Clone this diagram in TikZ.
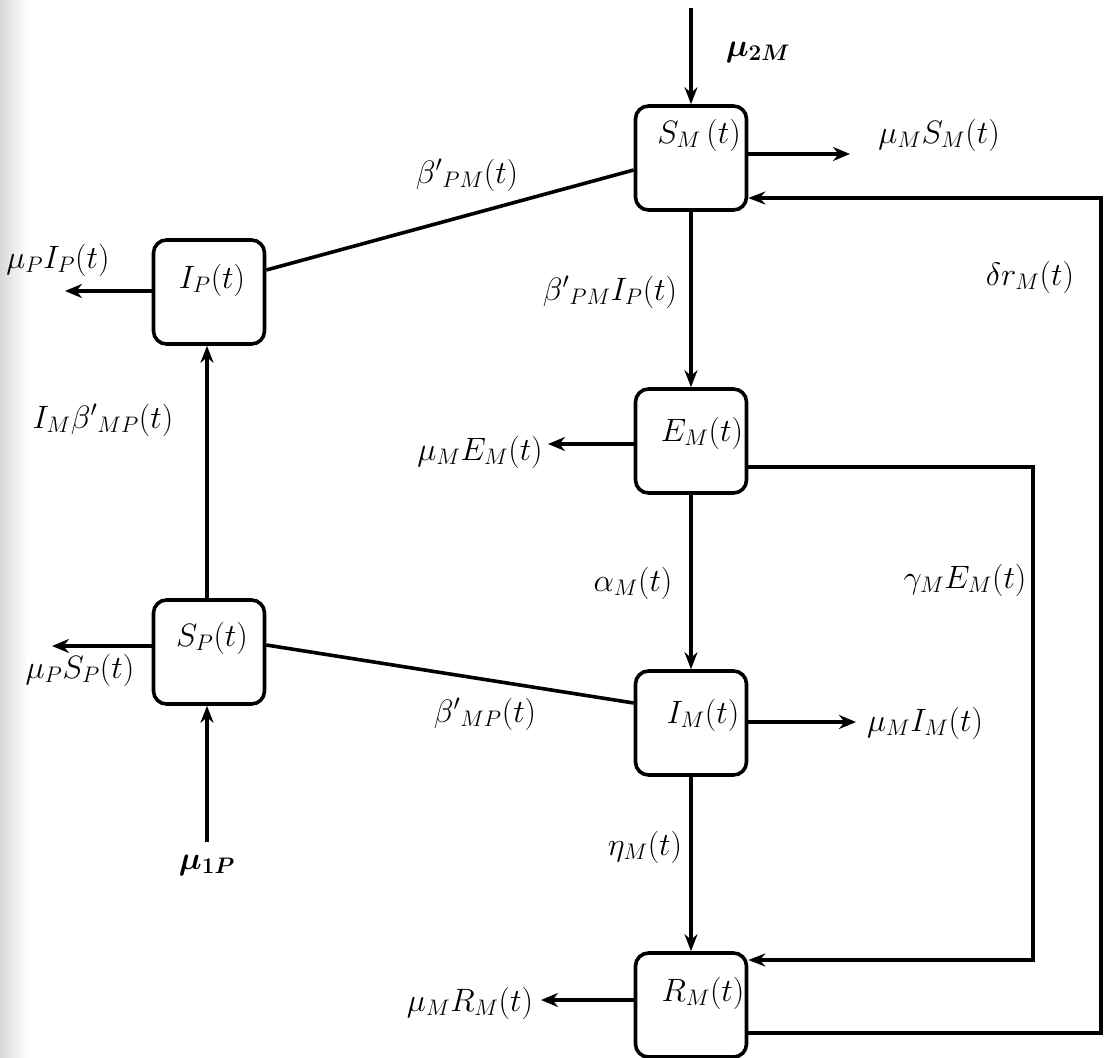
\documentclass[tikz,border=0pt]{standalone}
\usepackage{amsmath}
\DeclareMathSizes{24.88}{24.88}{17.28}{14.4}
\usetikzlibrary{arrows.meta,calc}
\newcommand\mlab[1]{\scalebox{1.3}{\Huge$#1$}}
\begin{document}
\begin{tikzpicture}[x=1pt,y=-1pt,
  box/.style={draw, line width=3.6pt, rounded corners=13pt, minimum width=111pt, minimum height=104pt, inner sep=0pt},
  lbl/.style={inner sep=0pt},
  arr/.style={line width=3.4pt, -{Stealth[length=17pt,width=13pt]}},
  flow/.style={line width=4.4pt, -{Stealth[length=17pt,width=14pt]}},
  link/.style={line width=3.6pt}]
\fill[white] (0,0) rectangle (1105,1057);
\shade[left color=gray!30, right color=white] (0,0) rectangle (28,1057);
\useasboundingbox (0,0) rectangle (1105,1057);

% boxes
\node[box] (SM) at (691,158) {};
\node[box] (IP) at (209,292) {};
\node[box] (EM) at (691,441) {};
\node[box] (IM) at (691,723) {};
\node[box] (SP) at (209,652) {};
\node[box] (RM) at (691,1005) {};

% box texts
\node[lbl] (tSM) at (699,135) {\mlab{S_M\,(t)}};
\node[lbl] (tIP) at (212,280) {\mlab{I_P(t)}};
\node[lbl] (tEM) at (702,433) {\mlab{E_M(t)}};
\node[lbl] (tIM) at (703,715) {\mlab{I_M(t)}};
\node[lbl] (tSP) at (212,638) {\mlab{S_P(t)}};
\node[lbl] (tRM) at (703,993) {\mlab{R_M(t)}};

% inflows
\coordinate (inSM) at (691,8);
\draw[arr] (inSM) -- (SM.north);
\coordinate (inSP) at (207,842);
\draw[arr] (inSP) -- (inSP |- SP.south);

% vertical transitions
\draw[arr] (SM.south) -- (EM.north);
\draw[arr] (EM.south) -- (IM.north);
\draw[arr] (IM.south) -- (RM.north);
\draw[arr] ([xshift=-2pt]SP.north) -- ([xshift=-2pt]IP.south);

% outflows
\coordinate (oSM) at (850,154);
\draw[flow] (SM.east |- oSM) -- (oSM);
\coordinate (oEM) at (548,444);
\draw[flow] (EM.west |- oEM) -- (oEM);
\coordinate (oIM) at (856,722);
\draw[flow] (IM.east |- oIM) -- (oIM);
\coordinate (oRM) at (541,1000);
\draw[flow] (RM.west |- oRM) -- (oRM);
\coordinate (oSP) at (52,646);
\draw[flow] (SP.west |- oSP) -- (oSP);
\coordinate (oIP) at (65,291);
\draw[flow] (IP.west |- oIP) -- (oIP);

% cross links
\coordinate (l1) at (0,270);
\coordinate (l2) at (0,170);
\draw[link] (IP.east |- l1) -- (SM.west |- l2);
\coordinate (l3) at (0,645);
\coordinate (l4) at (0,703);
\draw[link] (SP.east |- l3) -- (IM.west |- l4);

% feedback loops
\coordinate (c1) at (1101,1033);
\coordinate (c2) at (1101,198);
\draw[arr] (RM.east |- c1) -- (c1) -- (c2) -- (SM.east |- c2);
\coordinate (c3) at (1033,467);
\coordinate (c4) at (1033,960);
\draw[arr] (EM.east |- c3) -- (c3) -- (c4) -- (RM.east |- c4);

% labels
\node[lbl] (a1) at (758,52) {\mlab{\boldsymbol{\mu_{2M}}}};
\node[lbl] (a2) at (939,135) {\mlab{\mu_M S_M(t)}};
\node[lbl] (a3) at (467,175) {\mlab{\beta'{}_{PM}(t)}};
\node[lbl] (a4) at (610,292) {\mlab{\beta'{}_{PM}I_P(t)}};
\node[lbl] (a5) at (1030,277) {\mlab{\delta r_M(t)}};
\node[lbl] (a6) at (103,420) {\mlab{I_M\beta'{}_{MP}(t)}};
\node[lbl] (a7) at (58,260) {\mlab{\mu_P I_P(t)}};
\node[lbl] (a8) at (480,452) {\mlab{\mu_M E_M(t)}};
\node[lbl] (a9) at (633,583) {\mlab{\alpha_M(t)}};
\node[lbl] (a10) at (965,580) {\mlab{\gamma_M E_M(t)}};
\node[lbl] (a11) at (80,670) {\mlab{\mu_P S_P(t)}};
\node[lbl] (a12) at (485,714) {\mlab{\beta'{}_{MP}(t)}};
\node[lbl] (a13) at (925,723) {\mlab{\mu_M I_M(t)}};
\node[lbl] (a14) at (645,847) {\mlab{\eta_M(t)}};
\node[lbl] (a15) at (470,1003) {\mlab{\mu_M R_M(t)}};
\node[lbl] (a16) at (207,865) {\mlab{\boldsymbol{\mu_{1P}}}};
\end{tikzpicture}
\end{document}
